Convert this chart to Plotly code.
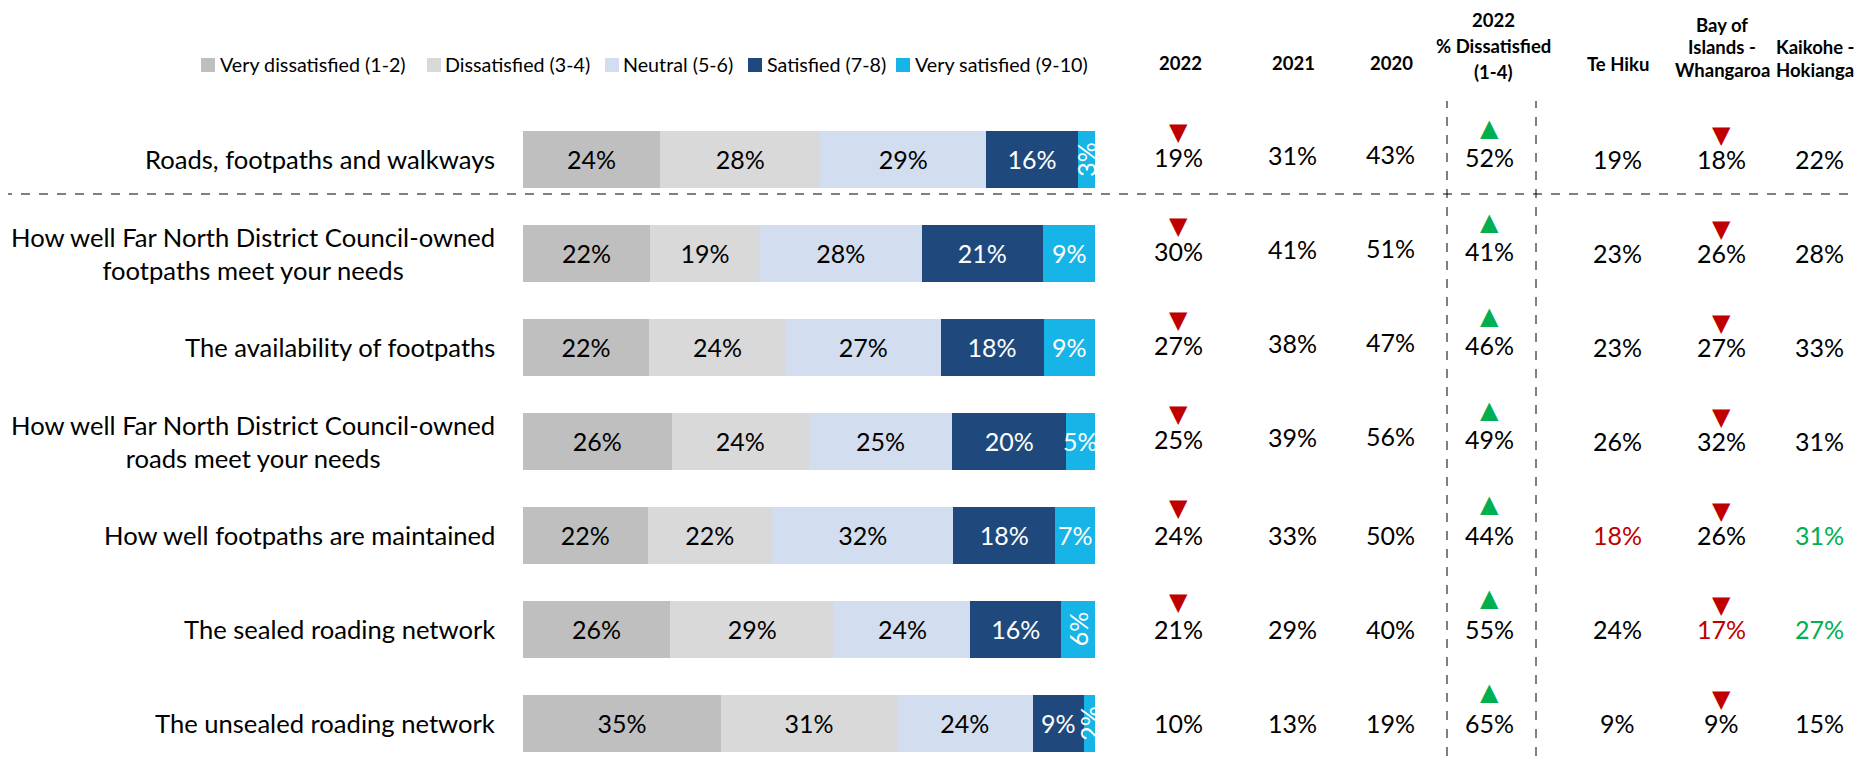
import plotly.graph_objects as go

# ---------------- data ----------------
categories = [
    "Roads, footpaths and walkways",
    "How well Far North District Council-owned<br>footpaths meet your needs",
    "The availability of footpaths",
    "How well Far North District Council-owned<br>roads meet your needs",
    "How well footpaths are maintained",
    "The sealed roading network",
    "The unsealed roading network",
]
series_names = ["Very dissatisfied (1-2)", "Dissatisfied (3-4)", "Neutral (5-6)",
                "Satisfied (7-8)", "Very satisfied (9-10)"]
very_dissatisfied = [24, 22, 22, 26, 22, 26, 35]
dissatisfied = [28, 19, 24, 24, 22, 29, 31]
neutral = [29, 28, 27, 25, 32, 24, 24]
satisfied = [16, 21, 18, 20, 18, 16, 9]
very_satisfied = [3, 9, 9, 5, 7, 6, 2]

sat_2022 = [19, 30, 27, 25, 24, 21, 10]
sat_2021 = [31, 41, 38, 39, 33, 29, 13]
sat_2020 = [43, 51, 47, 56, 50, 40, 19]
dissat_2022 = [52, 41, 46, 49, 44, 55, 65]
te_hiku = [19, 23, 23, 26, 18, 24, 9]
bay_of_islands = [18, 26, 27, 32, 26, 17, 9]
kaikohe_hokianga = [22, 28, 33, 31, 31, 27, 15]

# significance flags
sig_2022 = ["down", "down", "down", "down", "down", "down", ""]
sig_dissat = ["up", "up", "up", "up", "up", "up", "up"]
sig_boi = ["down", "down", "down", "down", "down", "down", "down"]
te_hiku_sig = ["", "", "", "", "low", "", ""]
boi_sig = ["", "", "", "", "", "low", ""]
kaikohe_sig = ["", "", "", "", "high", "high", ""]

headers = [["2022"], ["2021"], ["2020"], ["2022", "% Dissatisfied", "(1-4)"], ["Te Hiku"],
           ["Bay of", "Islands -", "Whangaroa"], ["Kaikohe -", "Hokianga"]]

# ---------------- style ----------------
OFF = 8                      # page body margin
FW, FH = 1864 - 2 * OFF, 764 - 2 * OFF
FONT = "Lato"
colors = ["#BFBFBF", "#D9D9D9", "#D2DEEF", "#1F497D", "#17B4E8"]
label_colors = ["#000000", "#000000", "#000000", "#FFFFFF", "#FFFFFF"]
vs_label_angle = [-90, 0, 0, 0, 0, -90, -90]
sig_colors = {"low": "#C00000", "high": "#00B050", "": "#000000"}
RED, GREEN = "#C00000", "#00B050"


def px(x):
    return (x - OFF) / FW


def py(y):
    return 1 - (y - OFF) / FH


row0_px, row_step = 159.3 - OFF, 94.0
yr = [(FH - row0_px) / row_step, -row0_px / row_step]
BAR_L, BAR_R = 523, 1095

col_x = [1178, 1292, 1390, 1489, 1617, 1721, 1819]
col_yshift = [2, 4, 5, 2, 0, 0, 0]
head_x = [1180, 1293, 1391, 1493, 1618, 1722, 1815]
head_line_y = [[63], [63], [63], [20, 45.5, 71.5], [64], [24.5, 46.5, 69.5], [46.5, 69.5]]

leg_box_x = [201, 427, 605, 748, 896]
leg_text_x = [218, 443, 621, 765, 913]
leg_y, leg_box = 65, 14

rows = list(range(len(categories)))
series = [very_dissatisfied, dissatisfied, neutral, satisfied, very_satisfied]

fig = go.Figure()
for i, (name, vals) in enumerate(zip(series_names, series)):
    last = i == len(series) - 1
    kw = {}
    if not last:
        kw = dict(text=[f"{v}%" for v in vals], textposition="inside",
                  insidetextanchor="middle", textangle=0, constraintext="none",
                  textfont=dict(family=FONT, size=25, color=label_colors[i]))
    fig.add_trace(go.Bar(
        y=rows, x=vals, name=name, orientation="h",
        marker=dict(color=colors[i], line=dict(width=0)),
        width=0.61, hoverinfo="skip", showlegend=False, **kw,
    ))

annotations = []
shapes = []

# legend (drawn manually for exact spacing)
for i, name in enumerate(series_names):
    shapes.append(dict(type="rect", xref="paper", yref="paper",
                       x0=px(leg_box_x[i]), x1=px(leg_box_x[i] + leg_box),
                       y0=py(leg_y + leg_box / 2), y1=py(leg_y - leg_box / 2),
                       fillcolor=colors[i], line=dict(width=0)))
    annotations.append(dict(x=px(leg_text_x[i]), y=py(leg_y), xref="paper", yref="paper",
                            text=name, showarrow=False, xanchor="left", yanchor="middle",
                            font=dict(family=FONT, size=19.7, color="#000000")))

# very satisfied labels (some rotated)
for r in rows:
    tot = sum(s[r] for s in series)
    before = sum(s[r] for s in series[:-1])
    xc = (before + very_satisfied[r] / 2) / tot * 100
    annotations.append(dict(
        x=xc, y=r, xref="x", yref="y", text=f"{very_satisfied[r]}%",
        showarrow=False, textangle=vs_label_angle[r],
        font=dict(family=FONT, size=25, color="#FFFFFF"),
        xanchor="center", yanchor="middle"))

# category labels
for r, c in zip(rows, categories):
    annotations.append(dict(
        x=px(497), y=r, xref="paper", yref="y", text=c, showarrow=False,
        xanchor="right", yanchor="middle", align="center",
        font=dict(family=FONT, size=25.6, color="#000000")))

# table values
table = [sat_2022, sat_2021, sat_2020, dissat_2022, te_hiku, bay_of_islands, kaikohe_hokianga]
table_sig = [None, None, None, None, te_hiku_sig, boi_sig, kaikohe_sig]
for ci, (vals, sigs) in enumerate(zip(table, table_sig)):
    for r in rows:
        col = sig_colors[sigs[r]] if sigs else "#000000"
        annotations.append(dict(
            x=px(col_x[ci]), y=r, xref="paper", yref="y", text=f"{vals[r]}%",
            yshift=col_yshift[ci] if r < 4 else 0,
            showarrow=False, xanchor="center", yanchor="middle",
            font=dict(family=FONT, size=25, color=col)))

# headers (one annotation per line for tight line spacing)
for hx, ys, lines in zip(head_x, head_line_y, headers):
    for hy, ln in zip(ys, lines):
        annotations.append(dict(
            x=px(hx), y=py(hy), xref="paper", yref="paper", text=f"<b>{ln}</b>",
            showarrow=False, xanchor="center", yanchor="middle",
            font=dict(family=FONT, size=18.5, color="#000000")))

# significance triangles
tri_specs = [(sig_2022, col_x[0], 27), (sig_dissat, col_x[3], 31), (sig_boi, col_x[5], 24)]
for sigs, cx, off in tri_specs:
    for r in rows:
        if not sigs[r]:
            continue
        down = sigs[r] == "down"
        annotations.append(dict(
            x=px(cx), y=r, xref="paper", yref="y", yshift=off,
            text="▼" if down else "▲", showarrow=False,
            xanchor="center", yanchor="middle",
            font=dict(family="DejaVu Sans", size=24, color=RED if down else GREEN)))

shapes += [
    dict(type="line", xref="paper", yref="y", x0=px(3), x1=px(1849), y0=0.37, y1=0.37,
         line=dict(color="#808080", width=2, dash="dash")),
    dict(type="line", xref="paper", yref="paper", x0=px(1447), x1=px(1447),
         y0=0, y1=py(101), line=dict(color="#000000", width=1, dash="dash")),
    dict(type="line", xref="paper", yref="paper", x0=px(1536), x1=px(1536),
         y0=0, y1=py(101), line=dict(color="#000000", width=1, dash="dash")),
]

fig.update_layout(
    width=FW, height=FH, margin=dict(l=0, r=0, t=0, b=0),
    paper_bgcolor="white", plot_bgcolor="white",
    barmode="stack", barnorm="percent",
    showlegend=False,
    xaxis=dict(domain=[px(BAR_L), px(BAR_R)], range=[0, 100], visible=False, fixedrange=True),
    yaxis=dict(range=yr, visible=False, fixedrange=True),
    annotations=annotations, shapes=shapes,
    font=dict(family=FONT),
    hovermode=False,
)

fig.write_html("out.html")
